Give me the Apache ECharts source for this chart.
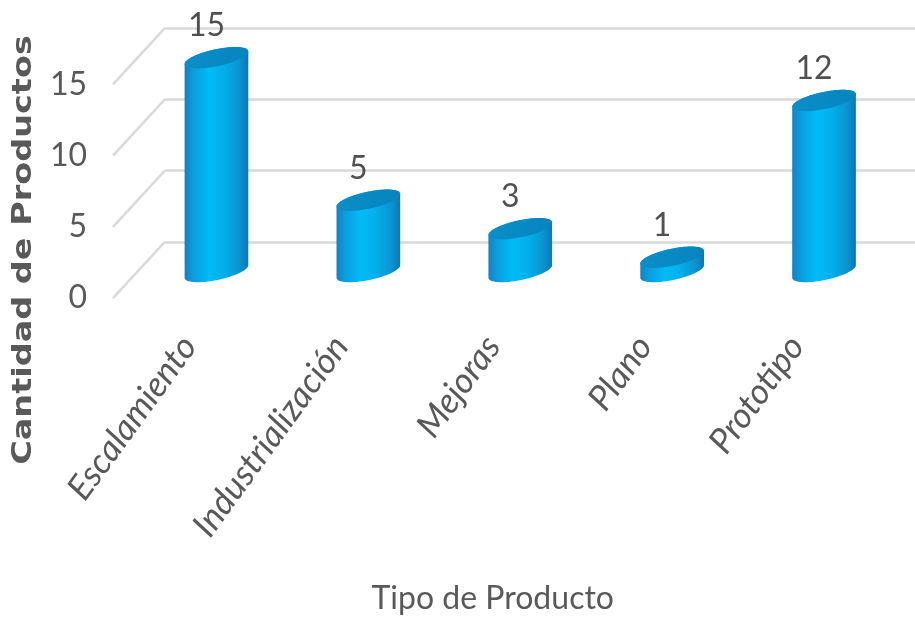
<!DOCTYPE html>
<html>
<head>
<meta charset="utf-8">
<script src="https://cdn.jsdelivr.net/npm/echarts@6/dist/echarts.min.js"></script>
<style>
  html, body { margin: 0; padding: 0; background: #ffffff; }
  #chart { width: 915px; height: 622px; }
</style>
</head>
<body>
<div id="chart"></div>
<script>
// Product counts by type
const categories = ['Escalamiento', 'Industrialización', 'Mejoras', 'Plano', 'Prototipo'];
const values = [15, 5, 3, 1, 12];
const yTicks = [0, 5, 10, 15];

const FONT = "Lato, 'Open Sans', sans-serif";
const TEXT_GRAY = '#595959';
const GRID_GRAY = '#D9D9D9';

// pseudo-3D layout: back wall, mid depth (bars) and front plane (labels)
const PLOT_W = 759.5;
const PLOT_H = 213.75;
const DEPTH_DX = -52;
const DEPTH_DY = 56.3;

// cylinder cross-section
const RX = 32.5, RY = 8.5, TILT = -12 * Math.PI / 180;

function ellipsePoint(cx, cy, t) {
  const c = Math.cos(TILT), s = Math.sin(TILT);
  const ex = RX * Math.cos(t), ey = RY * Math.sin(t);
  return [cx + ex * c - ey * s, cy + ex * s + ey * c];
}

function cylinder(params, api) {
  const i = api.value(0);
  const v = api.value(1);
  const base = api.coord([i, 0]);
  const top = api.coord([i, v]);
  const t0 = Math.atan(-(RY / RX) * Math.tan(TILT));
  const tR = t0, tL = t0 + Math.PI;
  const N = 48;
  const body = [];
  // lower arc of the base, left to right
  for (let k = 0; k <= N; k++) {
    const t = tL - (tL - tR) * k / N;
    body.push(ellipsePoint(base[0], base[1], t));
  }
  // upper arc of the top, right to left
  for (let k = 0; k <= N; k++) {
    const t = (tR + 2 * Math.PI) - Math.PI * k / N;
    body.push(ellipsePoint(top[0], top[1], t));
  }
  const cap = [];
  for (let k = 0; k < 72; k++) {
    cap.push(ellipsePoint(top[0], top[1], k / 72 * Math.PI * 2));
  }
  return {
    type: 'group',
    children: [
      {
        type: 'polygon',
        shape: { points: body },
        style: {
          fill: new echarts.graphic.LinearGradient(0, 0, 1, 0, [
            { offset: 0, color: '#1581c2' },
            { offset: 0.12, color: '#0a9bdc' },
            { offset: 0.38, color: '#00bcf6' },
            { offset: 0.6, color: '#02b0ec' },
            { offset: 0.85, color: '#0a95d3' },
            { offset: 1, color: '#0b76b6' }
          ])
        }
      },
      {
        type: 'polygon',
        shape: { points: cap },
        style: {
          fill: new echarts.graphic.LinearGradient(0, 0, 1, 1, [
            { offset: 0, color: '#0a90ca' },
            { offset: 1, color: '#0683bd' }
          ])
        }
      },
      {
        type: 'text',
        style: {
          x: top[0] - 10,
          y: top[1] - 16,
          text: String(v),
          textAlign: 'center',
          textVerticalAlign: 'bottom',
          fontFamily: FONT,
          fontSize: 32,
          fill: '#505050'
        }
      }
    ]
  };
}

function wallEdge(params, api) {
  const y = api.coord([0, api.value(1)])[1];
  const x = params.coordSys.x;
  return {
    type: 'line',
    shape: { x1: x, y1: y, x2: x + DEPTH_DX, y2: y + DEPTH_DY },
    style: { stroke: GRID_GRAY, lineWidth: 2.5 }
  };
}

const chart = echarts.init(document.getElementById('chart'), null, { renderer: 'canvas' });

const valueAxisBase = { type: 'value', min: 0, max: 15, interval: 5 };

chart.setOption({
  animation: false,
  backgroundColor: '#ffffff',
  grid: [
    { left: 165, top: 28, width: PLOT_W, height: PLOT_H, outerBoundsMode: 'none' },
    { left: 140.5, top: 57.75, width: PLOT_W, height: PLOT_H, outerBoundsMode: 'none' },
    { left: 113, top: 84.25, width: PLOT_W, height: PLOT_H, outerBoundsMode: 'none' }
  ],
  xAxis: [
    { gridIndex: 0, type: 'category', data: categories, show: false },
    { gridIndex: 1, type: 'category', data: categories, show: false },
    {
      gridIndex: 2, type: 'category', data: categories,
      axisLine: { show: false }, axisTick: { show: false },
      axisLabel: {
        rotate: 54, margin: 42, interval: 0,
        fontFamily: FONT, fontSize: 35, fontStyle: 'italic', color: TEXT_GRAY
      },
      name: 'Tipo de Producto', nameLocation: 'middle', nameGap: 285,
      nameTextStyle: { fontFamily: FONT, fontSize: 32, color: TEXT_GRAY }
    }
  ],
  yAxis: [
    Object.assign({ gridIndex: 0 }, valueAxisBase, {
      axisLine: { show: false }, axisTick: { show: false }, axisLabel: { show: false },
      splitLine: { show: true, lineStyle: { color: GRID_GRAY, width: 2.5 } }
    }),
    Object.assign({ gridIndex: 1, show: false }, valueAxisBase),
    Object.assign({ gridIndex: 2 }, valueAxisBase, {
      axisLine: { show: false }, axisTick: { show: false },
      splitLine: { show: false },
      axisLabel: { margin: 26, fontFamily: FONT, fontSize: 32, color: TEXT_GRAY }
    })
  ],
  graphic: [
    {
      type: 'text',
      x: 24, y: 250,
      rotation: Math.PI / 2,
      scaleX: 1.24,
      style: {
        text: 'Cantidad de Productos',
        textAlign: 'center', textVerticalAlign: 'middle',
        fontFamily: "'DejaVu Sans', sans-serif", fontWeight: 'bold', fontSize: 27,
        fill: TEXT_GRAY
      }
    }
  ],
  series: [
    {
      type: 'custom', xAxisIndex: 0, yAxisIndex: 0,
      renderItem: wallEdge,
      data: yTicks.map(v => [0, v]),
      silent: true, z: 1
    },
    {
      type: 'custom', xAxisIndex: 1, yAxisIndex: 1,
      renderItem: cylinder,
      data: values.map((v, i) => [i, v]),
      clip: false, z: 3
    }
  ]
});
</script>
</body>
</html>
